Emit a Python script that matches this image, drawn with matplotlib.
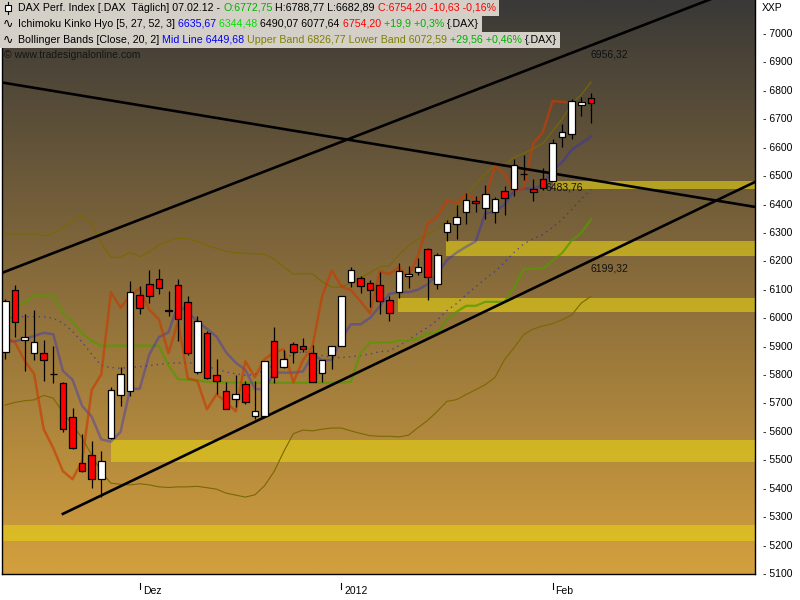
import matplotlib
matplotlib.use("Agg")
import matplotlib.pyplot as plt
import matplotlib.transforms as mtransforms
import numpy as np
from matplotlib.colors import LinearSegmentedColormap
from matplotlib.patches import Rectangle
from matplotlib.lines import Line2D

plt.rcParams['font.family'] = ['Liberation Sans', 'DejaVu Sans']

# DAX daily candles, index 0 = 11.11.2011 ... 61 = 07.02.2012
opens = [5879, 6095, 5919, 5873, 5873, 5801, 5767, 5648, 5487, 5515,
         5432, 5576, 5725, 5739, 6077, 6116, 6133, 6021, 6112, 6052,
         5806, 5943, 5798, 5739, 5711, 5764, 5652, 5652, 5915, 5826,
         5905, 5898, 5873, 5803, 5866, 5898, 6123, 6137, 6119, 6112,
         6059, 6088, 6145, 6158, 6239, 6116, 6299, 6327, 6371, 6408,
         6384, 6369, 6444, 6451, 6505, 6450, 6485, 6480, 6633, 6644,
         6746, 6772.75]
highs = [6064, 6113, 6010, 6025, 5920, 5899, 5772, 5680, 5589, 5564,
         5529, 5755, 5824, 6127, 6110, 6166, 6170, 6091, 6134, 6075,
         6004, 5953, 5853, 5771, 5797, 5776, 5777, 5846, 5966, 5885,
         5912, 5926, 5901, 5848, 5898, 6075, 6178, 6144, 6130, 6158,
         6074, 6190, 6179, 6207, 6245, 6227, 6342, 6395, 6436, 6425,
         6464, 6423, 6463, 6556, 6570, 6486, 6525, 6626, 6680, 6768,
         6776, 6788.77]
lows = [5853, 5931, 5812, 5849, 5777, 5767, 5597, 5536, 5455, 5400,
        5368, 5571, 5689, 5724, 6012, 6051, 6081, 6003, 5917, 5866,
        5801, 5784, 5730, 5676, 5685, 5695, 5643, 5651, 5770, 5820,
        5840, 5877, 5771, 5771, 5817, 5898, 6105, 6084, 6037, 6010,
        5986, 6066, 6102, 6147, 6059, 6098, 6267, 6276, 6329, 6369,
        6344, 6333, 6361, 6425, 6483, 6410, 6447, 6480, 6600, 6627,
        6708, 6682.89]
closes = [6057, 5982, 5929, 5912, 5848, 5800, 5606, 5539, 5458, 5430,
          5494, 5744, 5799, 6088, 6033, 6076, 6102, 6026, 5993, 5873,
          5986, 5785, 5776, 5676, 5729, 5701, 5669, 5845, 5789, 5852,
          5877, 5887, 5771, 5848, 5898, 6074, 6165, 6109, 6095, 6056,
          6014, 6162, 6152, 6176, 6140, 6218, 6330, 6353, 6411, 6401,
          6432, 6415, 6418, 6534, 6503, 6441, 6454, 6612, 6651, 6760,
          6758, 6754.20]

month_ticks = [14, 35, 57]
month_labels = ['Dez', '2012', 'Feb']

# Ichimoku lines
tenkan = [5913, 5916, 5923, 5934, 5945, 5940, 5811, 5780, 5688, 5650,
          5570, 5562, 5596, 5748, 5748, 5869, 5930, 5947, 6044, 6018,
          5986, 5959, 5932, 5876, 5840, 5815, 5748, 5745, 5805, 5805,
          5805, 5809, 5868, 5849, 5849, 5923, 5975, 5975, 5998, 6038,
          6082, 6088, 6088, 6097, 6116, 6152, 6201, 6227, 6248, 6267,
          6366, 6370, 6397, 6445, 6452, 6452, 6466, 6518, 6545, 6589,
          6612, 6636]
kijun = [6018, 6032, 6053, 6076, 6076, 6076, 6015, 5984, 5944, 5916,
         5900, 5900, 5900, 5900, 5900, 5900, 5900, 5830, 5782, 5780,
         5778, 5772, 5771, 5771, 5770, 5770, 5769, 5769, 5769, 5769,
         5769, 5769, 5769, 5769, 5769, 5769, 5773, 5875, 5911, 5911,
         5911, 5917, 5917, 5925, 5944, 5944, 5993, 6019, 6040, 6040,
         6054, 6054, 6054, 6104, 6170, 6171, 6171, 6199, 6226, 6270,
         6297, 6344]
chikou_shift = 2

# Bollinger bands (20, 2)
bb_mid = [5996, 6000, 6002, 6002, 6002, 5996, 5980, 5950, 5912, 5870,
          5830, 5823, 5820, 5824, 5826, 5830, 5834, 5838, 5839, 5840,
          5836, 5826, 5818, 5807, 5801, 5796, 5799, 5814, 5831, 5852,
          5871, 5878, 5877, 5865, 5858, 5858, 5861, 5865, 5870, 5879,
          5881, 5900, 5919, 5944, 5964, 5990, 6023, 6048, 6079, 6107,
          6135, 6161, 6193, 6228, 6258, 6276, 6291, 6316, 6344, 6379,
          6416, 6450]
bb_upper = [6293, 6293, 6293, 6293, 6286, 6295, 6315, 6340, 6357, 6330,
            6260, 6211, 6211, 6228, 6213, 6230, 6254, 6268, 6278, 6276,
            6267, 6252, 6242, 6232, 6227, 6225, 6223, 6222, 6204, 6177,
            6152, 6153, 6153, 6124, 6106, 6106, 6122, 6139, 6157, 6177,
            6181, 6220, 6252, 6275, 6291, 6311, 6341, 6386, 6431, 6468,
            6506, 6534, 6536, 6562, 6577, 6593, 6612, 6655, 6697, 6750,
            6783, 6827]
bb_lower = [5691, 5700, 5706, 5709, 5725, 5715, 5665, 5620, 5575, 5515,
            5455, 5416, 5412, 5410, 5414, 5410, 5403, 5401, 5403, 5403,
            5405, 5400, 5395, 5381, 5374, 5367, 5375, 5407, 5457, 5527,
            5590, 5603, 5600, 5606, 5610, 5610, 5600, 5591, 5583, 5581,
            5581, 5579, 5585, 5612, 5637, 5669, 5704, 5710, 5728, 5745,
            5763, 5788, 5851, 5893, 5939, 5959, 5969, 5977, 5991, 6008,
            6050, 6073]

# hand drawn trend lines (x0, y0, x1, y1) and their labels
trend_lines = [(-0.34, 6156, 73.4, 7118),
               (-0.55, 6827, 78.1, 6388),
               (6.0, 5308, 78.1, 6476)]
trend_labels = [(61, 6926, '6956,32'), (56.3, 6458, '6483,76'), (61, 6173, '6199,32')]

# zones: start index, low, high
zones = [(57, 6451, 6479), (45.9, 6216, 6268), (40.9, 6017, 6069),
         (10.96, 5492, 5568), (-1, 5213, 5269)]

W, H = 800, 600
fig = plt.figure(figsize=(8, 6), dpi=100)
fig.patch.set_facecolor('white')
ax = fig.add_axes([2 / W, 26 / H, 753 / W, 574 / H])
ax.set_xlim(-0.344, 78.09)
ax.set_ylim(5096.4, 7116.1)

# background gradient
bg = LinearSegmentedColormap.from_list('bg', ['#3a3937', '#8a6d3b', '#d4a03e'])
grad = np.linspace(0, 1, 256).reshape(-1, 1)
ax.imshow(grad, extent=[0, 1, 0, 1], transform=ax.transAxes, aspect='auto',
          cmap=bg, origin='upper', zorder=0)

# zones
for x0, lo, hi in zones:
    ax.add_patch(Rectangle((x0, lo), 80 - x0, hi - lo, facecolor='#e6d214',
                           edgecolor='none', alpha=0.6, zorder=1))

idx = np.arange(len(closes))

# indicators
ax.plot(idx, bb_upper, color='#7a6800', lw=0.8, zorder=2)
ax.plot(idx, bb_lower, color='#7a6800', lw=0.8, zorder=2)
ax.plot(idx, bb_mid, color='#2a2aa0', lw=1.0, ls=(0, (1, 3)), alpha=0.7, zorder=2)
ax.plot(idx, kijun, color='#559900', lw=1.6, alpha=0.75, zorder=2)
ax.plot(idx, tenkan, color='#2828d8', lw=1.8, alpha=0.38, zorder=2)
ax.plot(idx - chikou_shift, closes, color='#c83c00', lw=1.8, alpha=0.65, zorder=2)

# trend lines
for x0, y0, x1, y1 in trend_lines:
    ax.plot([x0, x1], [y0, y1], color='black', lw=1.9, zorder=3)
for x, y, s in trend_labels:
    ax.text(x, y, s, fontsize=7.5, color='#111111', va='center', ha='left', zorder=4)

# candles
for i, (o, h, l, c) in enumerate(zip(opens, highs, lows, closes)):
    ax.vlines(i, l, h, color='black', lw=0.9, zorder=5)
    fc = 'white' if c >= o else '#ff0000'
    ax.add_patch(Rectangle((i - 0.35, min(o, c)), 0.7, max(abs(c - o), 1.5),
                           facecolor=fc, edgecolor='black', lw=0.9, zorder=6))

# axes styling
for s in ['left', 'bottom', 'right']:
    ax.spines[s].set_color('black')
    ax.spines[s].set_linewidth(1.0)
ax.spines['top'].set_visible(False)
ax.set_xticks([])
ax.yaxis.tick_right()
yt = list(range(5100, 7001, 100))
ax.set_yticks(yt)
ax.set_yticklabels(['- %d' % v for v in yt])
ax.tick_params(axis='y', length=0, pad=6, labelsize=7.5)

xtr = ax.get_xaxis_transform()
lab_tr = mtransforms.offset_copy(xtr, fig=fig, x=3, y=0, units='dots')
for t, s in zip(month_ticks, month_labels):
    ax.plot([t, t], [-0.016, -0.027], color='black', lw=0.8, transform=xtr, clip_on=False)
    ax.text(t, -0.03, s, transform=lab_tr, fontsize=7.5, va='center', ha='left')

fig.text(762 / W, 1 - 8 / H, 'XXP', fontsize=7.5, va='center', ha='left')

# header rows
renderer = fig.canvas.get_renderer()


def draw_runs(y_px, runs, x_px=18):
    x = x_px
    for s, col in runs:
        t = fig.text(x / W, 1 - y_px / H, s, color=col, fontsize=7.7,
                     va='center', ha='left', zorder=21)
        x += t.get_window_extent(renderer).width
    return x


rows = [
    [('DAX Perf. Index [.DAX  Täglich] 07.02.12 - ', 'black'), ('O:6772,75', '#00b000'),
     (' H:6788,77 L:6682,89 ', 'black'), ('C:6754,20 -10,63 -0,16%', '#ff0000')],
    [('Ichimoku Kinko Hyo [5, 27, 52, 3] ', 'black'), ('6635,67 ', '#0000ff'),
     ('6344,48 ', '#00e000'), ('6490,07 6077,64 ', 'black'), ('6754,20 ', '#ff0000'),
     ('+19,9 +0,3% ', '#00b000'), ('{.DAX}', 'black')],
    [('Bollinger Bands [Close, 20, 2] ', 'black'), ('Mid Line 6449,68 ', '#0000ff'),
     ('Upper Band 6826,77 Lower Band 6072,59 ', '#808000'), ('+29,56 +0,46% ', '#00b000'),
     ('{.DAX}', 'black')],
]
for k, runs in enumerate(rows):
    yc = 8 + 16 * k
    xe = draw_runs(yc, runs)
    fig.add_artist(Rectangle((0, 1 - (yc + 8) / H), (xe + 3) / W, 16 / H,
                             transform=fig.transFigure, facecolor='#d4d0c8',
                             edgecolor='none', zorder=20))
    if k == 0:
        fig.add_artist(Line2D([8 / W, 8 / W], [1 - 2 / H, 1 - 14 / H], color='black',
                              lw=0.8, transform=fig.transFigure, zorder=22))
        fig.add_artist(Rectangle((5 / W, 1 - 11 / H), 6 / W, 6 / H, facecolor='white',
                                 edgecolor='black', lw=0.8, transform=fig.transFigure, zorder=23))
    else:
        fig.text(3 / W, 1 - yc / H, '\u223f', fontsize=9, family='DejaVu Sans',
                 va='center', ha='left', zorder=22)

fig.text(4 / W, 1 - 55 / H, '\u00a9 www.tradesignalonline.com', fontsize=7.5,
         color='#151515', va='center', ha='left', zorder=22)

fig.savefig('out.png', dpi=100)
